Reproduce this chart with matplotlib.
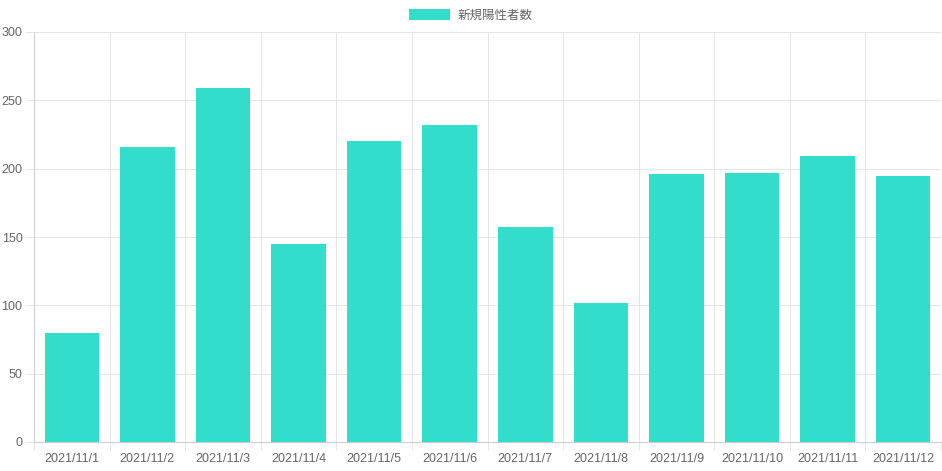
import matplotlib
matplotlib.use("Agg")
import matplotlib.pyplot as plt
import numpy as np

plt.rcParams['font.family'] = ['Liberation Sans', 'Noto Sans CJK JP', 'DejaVu Sans']

dates = ["2021/11/1", "2021/11/2", "2021/11/3", "2021/11/4", "2021/11/5", "2021/11/6",
         "2021/11/7", "2021/11/8", "2021/11/9", "2021/11/10", "2021/11/11", "2021/11/12"]
cases = [80, 216, 259, 145, 220, 232, 157, 102, 196, 197, 209, 195]
series_label = "新規陽性者数"
y_ticks = [0, 50, 100, 150, 200, 250, 300]

bar_color = "#33ddcc"
grid_color = "#e5e5e5"
axis_color = "#cccccc"
text_color = "#666666"

fig = plt.figure(figsize=(9.42, 4.71), dpi=100)
ax = fig.add_axes([34/942, 29/471, 907/942, 410/471])

x = np.arange(len(dates))
ax.bar(x, cases, width=0.72, color=bar_color, label=series_label, zorder=3)

ax.set_xlim(-0.5, len(dates) - 0.5)
ax.set_ylim(0, 300)
ax.set_yticks(y_ticks)
ax.set_xticks(x)
ax.set_xticklabels(dates)
ax.set_xticks(np.arange(len(dates) + 1) - 0.5, minor=True)

tick_len = 8 * 0.72  # 8 px in points
ax.tick_params(axis='x', which='major', length=0, pad=tick_len + 2.5, labelsize=9, labelcolor=text_color)
ax.tick_params(axis='x', which='minor', length=tick_len, color=grid_color, width=0.72)
ax.tick_params(axis='y', length=tick_len, color=grid_color, width=0.72, pad=2.5, labelsize=9, labelcolor=text_color)

ax.grid(True, axis='y', color=grid_color, linewidth=0.72, zorder=0)
ax.grid(True, axis='x', which='minor', color=grid_color, linewidth=0.72, zorder=0)
ax.grid(False, axis='x', which='major')

for side in ['top', 'right']:
    ax.spines[side].set_visible(False)
ax.spines['left'].set_color(axis_color)
ax.spines['bottom'].set_color(axis_color)
ax.spines['left'].set_linewidth(0.72)
ax.spines['bottom'].set_linewidth(0.72)
ax.spines['left'].set_zorder(4)
ax.spines['bottom'].set_zorder(4)

leg = fig.legend(loc='upper center', bbox_to_anchor=(0.5, 1.0), frameon=False,
                 handlelength=3.3, handleheight=1.0, handletextpad=0.6,
                 fontsize=9, labelcolor=text_color, borderaxespad=0.3)

fig.savefig("out.png", dpi=100)
